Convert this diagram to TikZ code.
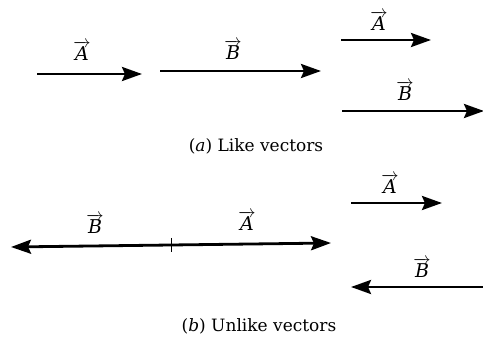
\documentclass[tikz,border=0pt]{standalone}
\usepackage{fontspec}
\setmainfont{DejaVu Serif}
\usetikzlibrary{arrows.meta,calc}
\newcommand{\vlab}[1]{$\overrightarrow{\mbox{\itshape #1}}$}
\begin{document}
\begin{tikzpicture}[x=1pt,y=-1pt,
  vec/.style={line width=2.8pt,-{Stealth[length=20pt,width=14pt,inset=3pt]}},
  vecb/.style={line width=2.8pt,{Stealth[length=20pt,width=14pt,inset=3pt]}-{Stealth[length=20pt,width=14pt,inset=3pt]}},
  lab/.style={inner sep=0pt,font=\fontsize{19}{21}\selectfont},
  captext/.style={inner sep=0pt,font=\fontsize{17}{19}\selectfont}]
\useasboundingbox (0,0) rectangle (483,337);
% (a)
\coordinate (a1s) at (37,74); \coordinate (a1e) at (142,74);
\coordinate (b1s) at (160,71); \coordinate (b1e) at (321,71);
\coordinate (a2s) at (341,40); \coordinate (a2e) at (431,40);
\coordinate (b2s) at (342,111); \coordinate (b2e) at (484,111);
\draw[vec] (a1s) -- (a1e);
\draw[vec] (b1s) -- (b1e);
\draw[vec] (a2s) -- (a2e);
\draw[vec] (b2s) -- (b2e);
\node[lab] (la1) at (82,51) {\vlab{A}};
\node[lab] (lb1) at (233,50) {\vlab{B}};
\node[lab] (la2) at (379,21) {\vlab{A}};
\node[lab] (lb2) at (405,91) {\vlab{B}};
\node[captext] (capa) at (256,146) {(\textit{a}) Like vectors};
% (b)
\coordinate (ul) at (11,247); \coordinate (ur) at (331,243);
\coordinate (tick) at (171,245);
\draw[vecb] (ul) -- (ur);
\draw[line width=1pt] ($(tick)+(0,-7)$) -- ($(tick)+(0,7)$);
\node[lab] (lb3) at (95,224) {\vlab{B}};
\node[lab] (la3) at (247,221) {\vlab{A}};
\coordinate (a3s) at (351,203); \coordinate (a3e) at (442,203);
\draw[vec] (a3s) -- (a3e);
\node[lab] (la4) at (390,184) {\vlab{A}};
\coordinate (b3s) at (484,287); \coordinate (b3e) at (351,287);
\draw[vec] (b3s) -- (b3e);
\node[lab] (lb4) at (422,268) {\vlab{B}};
\node[captext] (capb) at (259,326) {(\textit{b}) Unlike vectors};
\end{tikzpicture}
\end{document}
